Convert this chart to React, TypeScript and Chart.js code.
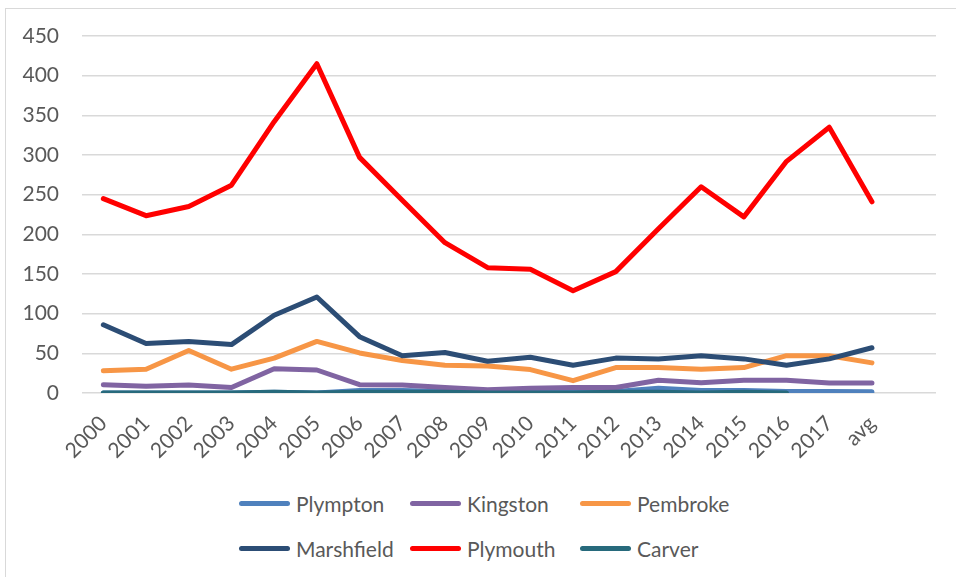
import React, { useEffect, useRef } from "react";
import { Chart, registerables } from "chart.js";

Chart.register(...registerables);

const categories = [
  "2000", "2001", "2002", "2003", "2004", "2005", "2006", "2007", "2008", "2009",
  "2010", "2011", "2012", "2013", "2014", "2015", "2016", "2017", "avg", "",
];

const seriesNames = ["Plympton", "Kingston", "Pembroke", "Marshfield", "Plymouth", "Carver"];
const seriesColors = ["#4f81bd", "#8064a2", "#f79646", "#2c4d75", "#ff0000", "#276a7c"];

const plympton = [0, 0, 0, 0, 1, 0, 3, 3, 2, 1, 2, 3, 2, 6, 3, 3, 2, 2, 1.5, null];
const kingston = [10.5, 8.5, 10, 7, 30.5, 29, 10.5, 10, 7, 4, 6, 7, 7, 16, 13, 16, 16, 12.5, 12.5, null];
const pembroke = [28, 30, 53.5, 30, 44, 65, 50.5, 41, 35, 34, 29.5, 15.5, 32, 32, 30, 32, 47, 47, 38, null];
const marshfield = [86, 62.5, 65, 61, 98, 121, 71, 47, 51, 40, 45, 35, 44, 43, 47, 43, 35, 43, 57, null];
const plymouth = [245, 223.5, 235, 262, 342, 415, 297, 243, 189.5, 158, 156, 129, 153, 207, 260, 222, 292, 335, 241, null];
const carver = [0, 0, 0, 0, 1, 0, 1, 1, 1, 0, 0, 0, 1, 1, 0, 1, 0, null, null, null];

const seriesData = [plympton, kingston, pembroke, marshfield, plymouth, carver];

const yMin = 0;
const yMax = 450;
const yStep = 50;

const FONT = "Lato, 'Liberation Sans', sans-serif";
const TEXT = "#595959";

export default function App() {
  const ref = useRef<HTMLCanvasElement>(null);

  useEffect(() => {
    const chart = new Chart(ref.current as HTMLCanvasElement, {
      type: "line",
      data: {
        labels: categories,
        datasets: seriesNames.map((name, i) => ({
          label: name,
          data: seriesData[i],
          borderColor: seriesColors[i],
          backgroundColor: seriesColors[i],
          borderWidth: 5,
          pointRadius: 0,
          pointHoverRadius: 0,
          borderCapStyle: "round",
          borderJoinStyle: "round",
          tension: 0,
          spanGaps: false,
          order: seriesNames.length - i,
        })) as any,
      },
      options: {
        animation: false,
        responsive: false,
        maintainAspectRatio: false,
        layout: { padding: { left: 0, right: 20, top: 36, bottom: 0 } },
        plugins: {
          legend: { display: false },
          tooltip: { enabled: false },
          title: { display: false },
        },
        scales: {
          x: {
            offset: true,
            grid: { display: false, drawTicks: false },
            border: { display: false },
            ticks: {
              color: TEXT,
              font: { family: FONT, size: 21 },
              minRotation: 45,
              maxRotation: 45,
              autoSkip: false,
              padding: 18,
            },
            afterFit: (s: any) => {
              s.height = 87;
            },
          },
          y: {
            min: yMin,
            max: yMax,
            ticks: {
              stepSize: yStep,
              color: TEXT,
              font: { family: FONT, size: 21 },
              padding: 23,
            },
            grid: { color: "#d9d9d9", lineWidth: 1.5, drawTicks: false },
            border: { display: false },
            afterFit: (s: any) => {
              s.width = 82;
            },
          },
        },
      } as any,
    });
    return () => chart.destroy();
  }, []);

  const colLeft = [239, 410, 580];
  const rowTop = [503, 548];

  return (
    <div style={{ position: "relative", width: 956, height: 577, overflow: "hidden", background: "#fff" }}>
      <style>{`body{margin:0;background:#fff;}`}</style>
      <div
        style={{
          position: "absolute",
          left: 5,
          top: 8,
          width: 980,
          height: 600,
          border: "1px solid #d9d9d9",
          boxSizing: "border-box",
        }}
      />
      <canvas
        ref={ref}
        width={956}
        height={480}
        style={{ position: "absolute", left: 0, top: 0, width: 956, height: 480, display: "block" }}
      />
      {seriesNames.map((name, i) => (
        <div
          key={name}
          style={{
            position: "absolute",
            left: colLeft[i % 3],
            top: rowTop[Math.floor(i / 3)] - 15,
            height: 30,
            display: "flex",
            alignItems: "center",
            fontFamily: FONT,
            fontSize: 21,
            color: TEXT,
            whiteSpace: "nowrap",
          }}
        >
          <span
            style={{
              display: "inline-block",
              width: 51,
              height: 5,
              borderRadius: 3,
              background: seriesColors[i],
              marginRight: 6,
            }}
          />
          <span>{name}</span>
        </div>
      ))}
    </div>
  );
}
